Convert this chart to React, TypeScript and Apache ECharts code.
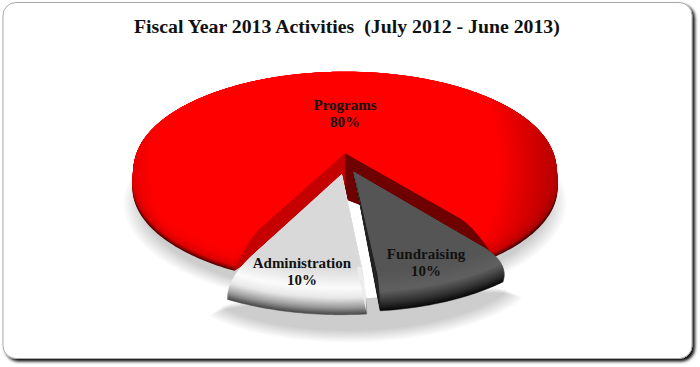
import React, { useEffect, useRef } from "react";
import * as echarts from "echarts";

const titleText = "Fiscal Year 2013 Activities  (July 2012 - June 2013)";
const sliceNames = ["Programs", "Administration", "Fundraising"];
const sliceValues = [80, 10, 10];

// --- styling / projection constants
const FONT = '"Liberation Serif", serif';
const GAP_END = 38.5; // where the detached slices end on the disk
const SWEEP_SCALE = 0.91; // foreshortening applied to the detached slices' sweep
const CX = 345, Y0 = 153, A = 210, B = 94.7, K = 0.1547;
const xShrink = [0, 0.0005, 0.002];
const STEPS = 36;
const explodes = [[0, 0], [-0.015, 0.215], [0.042, 0.2]];
const labelRadius = [0.45, 0.85, 0.83];
const labelTurn = [-5.75, 0, -2];
const depths = [20, 20, 19];
const apexDepth = [46, 20, 0];
const faceRadius = [0.99, 0.8, 0.85];
const wallBend = [0.78, 0.8, 0.85];
const ramps = [
  [[0, "#ff0000"], [0.6, "#f80000"], [0.88, "#dc0000"], [1, "#5a0000"]],
  [[0, "#d9d9d9"], [0.42, "#fbfbfb"], [0.62, "#e8e8e8"], [0.84, "#989898"], [1, "#4a4a4a"]],
  [[0, "#555555"], [0.5, "#606060"], [0.78, "#343434"], [1, "#0a0a0a"]],
] as [number, string][][];
const wallColorsStart = ["#6e0000", "", "#222222"];
const wallColorsEnd = ["#c40000", "#ececec", ""];
const SHADOW_LAYERS = 10;
const SHADOW_ALPHA = 0.021;

const hex = (c: string) => [1, 3, 5].map((i) => parseInt(c.slice(i, i + 2), 16));
function rampRGB(r: [number, string][], t: number) {
  for (let i = 1; i < r.length; i++) {
    if (t <= r[i][0]) {
      const f = (t - r[i - 1][0]) / (r[i][0] - r[i - 1][0]);
      const a = hex(r[i - 1][1]), b = hex(r[i][1]);
      return a.map((x, j) => Math.round(x + (b[j] - x) * f));
    }
  }
  return hex(r[r.length - 1][1]);
}
const css = (c: number[]) => `rgb(${c.join(",")})`;

function proj(u: number, v: number, d: number, shrink = 0) {
  const w = 1 - K * v;
  const x = (A * u) / w;
  return [CX + x * (1 - d * shrink), Y0 + (B * v) / w + d];
}

function redGradient(c: number[]) {
  return {
    type: "radial", global: true, x: 325, y: 165, r: 240,
    colorStops: [
      { offset: 0, color: css(c) },
      { offset: 0.72, color: css(c) },
      { offset: 1, color: css(c.map((x) => Math.round(x * 0.68))) },
    ],
  };
}

const total = () => sliceValues.reduce((a, b) => a + b, 0);
// disk angles [from, to] of each slice, all derived from the values
function angles(idx: number) {
  const sweep = (i: number) => (sliceValues[i] / total()) * 360 * SWEEP_SCALE;
  if (idx === 2) return [GAP_END - sweep(2), GAP_END];
  if (idx === 1) return [GAP_END - sweep(2) - sweep(1), GAP_END - sweep(2)];
  return [GAP_END, 360 + GAP_END - sweep(2) - sweep(1)];
}

function slicePts(i: number, radius: number, d: number, tipD: number) {
  const [a0, a1] = angles(i);
  const [ex, ey] = explodes[i];
  const pts: number[][] = [];
  const n = Math.max(8, Math.round(a1 - a0));
  for (let s = 0; s <= n; s++) {
    const a = ((a0 + ((a1 - a0) * s) / n) * Math.PI) / 180;
    pts.push(proj(ex + radius * Math.sin(a), ey + radius * Math.cos(a), d, xShrink[i]));
  }
  pts.push(proj(ex, ey, tipD, xShrink[i]));
  return pts;
}

function blurred(make: (grow: number) => number[][]) {
  const children: any[] = [];
  for (let k = 0; k < SHADOW_LAYERS; k++) {
    const grow = 0.04 - (0.08 * k) / (SHADOW_LAYERS - 1);
    children.push({
      type: "polygon",
      shape: { points: make(grow) },
      style: { fill: `rgba(0,0,0,${SHADOW_ALPHA})` },
    });
  }
  return { type: "group", children, silent: true };
}

function renderShadow(params: any) {
  const i = params.dataIndex;
  if (i === 2) return { type: "group", children: [] };
  if (i === 0) {
    return blurred((g) => slicePts(0, 1 + g, 0, 0).map(([x, y]) => [x, y + 34]));
  }
  // one lens-shaped crescent under both detached slices
  return blurred((g) => {
    const a0 = angles(1)[0] - 5, a1 = angles(2)[1] + 5;
    const outer: number[][] = [], inner: number[][] = [];
    const n = 50;
    for (let s = 0; s <= n; s++) {
      const t = s / n;
      const a = ((a0 + (a1 - a0) * t) * Math.PI) / 180;
      const ex = explodes[1][0] + (explodes[2][0] - explodes[1][0]) * t;
      const ey = explodes[1][1] + (explodes[2][1] - explodes[1][1]) * t;
      const round = Math.sqrt(Math.sin(Math.PI * t));
      const ro = 1 + g - 0.05 * (1 - round);
      const ri = ro - (0.28 + g) * round;
      const o = proj(ex + ro * Math.sin(a), ey + ro * Math.cos(a), 0);
      const p = proj(ex + ri * Math.sin(a), ey + ri * Math.cos(a), 0);
      outer.push([o[0], o[1] + 43]);
      inner.unshift([p[0], p[1] + 43]);
    }
    return outer.concat(inner);
  });
}

function wall(i: number, deg: number, color: string) {
  const a = (deg * Math.PI) / 180;
  const [ex, ey] = explodes[i];
  const T = depths[i];
  const r0 = wallBend[i];
  const pts: number[][] = [];
  const n = 24;
  for (let s = 0; s <= n; s++) {
    const r = s / n;
    const t = Math.max(0, (r - r0) / (1 - r0));
    pts.push(proj(ex + r * Math.sin(a), ey + r * Math.cos(a), T * t * t, xShrink[i]));
  }
  pts.push(proj(ex, ey, apexDepth[i], xShrink[i]));
  return { type: "polygon", shape: { points: pts }, style: { fill: color } };
}

function renderSlice(params: any) {
  const i = params.dataIndex;
  const T = depths[i];
  const r0 = faceRadius[i];
  const children: any[] = [];
  for (let s = STEPS; s >= 1; s--) {
    const t = s / STEPS;
    const r = r0 + (1 - r0) * (1 - (1 - t) * (1 - t));
    const d = T * t * t;
    const c = rampRGB(ramps[i], t);
    children.push({
      type: "polygon",
      shape: { points: slicePts(i, r, d, (apexDepth[i] * s) / STEPS) },
      style: { fill: i === 0 ? redGradient(c) : css(c), stroke: i === 0 ? undefined : css(c), lineWidth: 0.5 },
    });
  }
  const [a0, a1] = angles(i);
  if (wallColorsStart[i]) children.push(wall(i, a0, wallColorsStart[i]));
  if (wallColorsEnd[i]) children.push(wall(i, a1, wallColorsEnd[i]));
  const c0 = rampRGB(ramps[i], 0);
  children.push({
    type: "polygon",
    shape: { points: slicePts(i, r0, 0, 0) },
    style: { fill: i === 0 ? redGradient(c0) : css(c0) },
  });
  return { type: "group", children, silent: true };
}

function renderLabel(params: any, api: any) {
  const i = params.dataIndex;
  const v = api.value(0);
  const [a0, a1] = angles(i);
  const mid = (((a0 + a1) / 2 + labelTurn[i]) * Math.PI) / 180;
  const [x, y] = proj(
    explodes[i][0] + labelRadius[i] * Math.sin(mid),
    explodes[i][1] + labelRadius[i] * Math.cos(mid),
    0,
  );
  return {
    type: "text",
    style: {
      text: `${sliceNames[i]}\n${v}%`,
      x, y,
      align: "center",
      verticalAlign: "middle",
      fill: "#111",
      font: `bold 15px ${FONT}`,
      lineHeight: 17,
    },
    silent: true,
  };
}

export default function App() {
  const ref = useRef<HTMLDivElement>(null);
  useEffect(() => {
    document.body.style.margin = "0";
    document.body.style.background = "#fff";
    const chart = echarts.init(ref.current!, null, { renderer: "svg" });
    const data = sliceValues.map((v, i) => ({ name: sliceNames[i], value: [v] }));
    chart.setOption({
      animation: false,
      backgroundColor: "#fff",
      title: {
        text: titleText,
        left: 129,
        top: 11,
        textStyle: { fontFamily: FONT, fontWeight: "bold", fontSize: 19.8, color: "#111" },
      },
      graphic: [
        {
          type: "rect",
          z: 0,
          shape: { x: 3, y: 2.5, width: 689, height: 356, r: 13 },
          style: {
            fill: "#fff", stroke: "#aaa", lineWidth: 1,
            shadowColor: "rgba(0,0,0,0.95)", shadowBlur: 3, shadowOffsetX: 2.5, shadowOffsetY: 2.5,
          },
        },
      ],
      series: [
        { type: "custom", coordinateSystem: "none", z: 2, data, renderItem: renderShadow, silent: true },
        { type: "custom", coordinateSystem: "none", z: 3, data, renderItem: renderSlice, silent: true },
        { type: "custom", coordinateSystem: "none", z: 4, data, renderItem: renderLabel, silent: true },
      ],
    });
    return () => chart.dispose();
  }, []);
  return <div ref={ref} style={{ width: 700, height: 367 }} />;
}
